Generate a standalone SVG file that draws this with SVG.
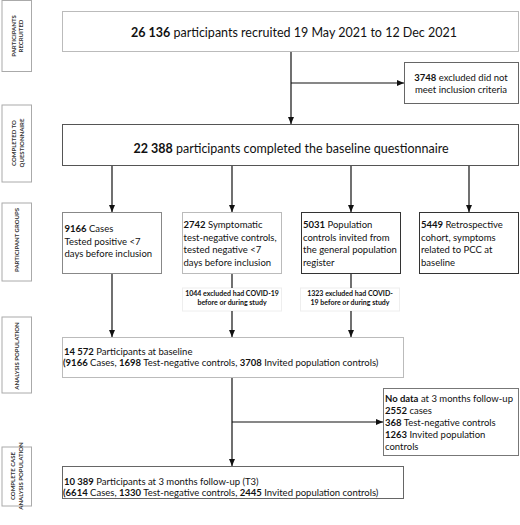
<svg xmlns="http://www.w3.org/2000/svg" width="520" height="525" viewBox="0 0 520 525">
<defs>
<marker id="ah" markerWidth="8" markerHeight="6" refX="7" refY="3" orient="auto" markerUnits="userSpaceOnUse">
<path d="M0,0 L7,3 L0,6 Z" fill="#111"/>
</marker>
<style>
text{font-family:Lato,"Liberation Sans",sans-serif;fill:#111}
.lbl rect{fill:#fff;stroke:#aaa;stroke-width:1}
.lbl text{font-size:6px;font-weight:bold;fill:#333;text-anchor:middle}
.box{fill:#fff;stroke-width:1}
.big{font-size:12.5px}
.mid{font-size:9.5px}
.sm{font-size:7px;font-weight:bold;text-anchor:middle}
.b{font-weight:bold}
.c{text-anchor:middle}
.con line{stroke:#111;stroke-width:1.2;fill:none}
</style>
</defs>
<rect width="520" height="525" fill="#fff"/>

<g id="lbl-recruited" class="lbl"><rect x="2" y="0.5" width="29.5" height="71"/>
<text transform="translate(13.5,36) rotate(-90)" dy="2">PARTICIPANTS</text>
<text transform="translate(21,36) rotate(-90)" dy="2">RECRUITED</text></g>
<g id="lbl-completed" class="lbl"><rect x="2" y="105" width="29.5" height="77"/>
<text transform="translate(14,143) rotate(-90)" dy="2">COMPLETED TO</text>
<text transform="translate(21.5,143) rotate(-90)" dy="2">QUESTIONNAIRE</text></g>
<g id="lbl-groups" class="lbl"><rect x="2" y="203" width="29.5" height="78"/>
<text transform="translate(17,240) rotate(-90)" dy="2">PARTICIPANT GROUPS</text></g>
<g id="lbl-analysis" class="lbl"><rect x="2" y="317" width="29.5" height="76"/>
<text transform="translate(17,356) rotate(-90)" dy="2">ANALYSIS POPULATION</text></g>
<g id="lbl-complete" class="lbl"><rect x="2" y="447" width="29.5" height="59"/>
<text transform="translate(13,476) rotate(-90)" dy="2">COMPLETE CASE</text>
<text transform="translate(20.5,476) rotate(-90)" dy="2">ANALYSIS POPULATION</text></g>

<g id="recruited"><rect class="box" x="62.5" y="11.5" width="456" height="40" stroke="#bbb"/>
<text class="big c" x="294" y="37"><tspan class="b">26 136</tspan> participants recruited 19 May 2021 to 12 Dec 2021</text></g>

<g id="excluded1"><rect class="box" x="404.5" y="62.5" width="114" height="41" stroke="#666"/>
<text class="mid c" x="461" y="80.5"><tspan class="b">3748</tspan> excluded did not</text>
<text class="mid c" x="461" y="92.5">meet inclusion criteria</text></g>

<g id="baseline-q"><rect class="box" x="62.5" y="124.5" width="456" height="41" stroke="#555"/>
<text class="big c" x="291" y="152.5"><tspan class="b">22 388</tspan> participants completed the baseline questionnaire</text></g>

<g id="cases"><rect class="box" x="62.5" y="212.5" width="99" height="61" stroke="#888"/>
<text class="mid" x="64.5" y="232"><tspan class="b">9166</tspan> Cases</text>
<text class="mid" x="64.5" y="244.5">Tested positive  &lt;7</text>
<text class="mid" x="64.5" y="257">days before inclusion</text></g>

<g id="testneg"><rect class="box" x="182.5" y="212.5" width="99" height="61" stroke="#bbb"/>
<text class="mid" x="183.5" y="228"><tspan class="b">2742</tspan> Symptomatic</text>
<text class="mid" x="183.5" y="240.5">test-negative  controls,</text>
<text class="mid" x="183.5" y="253">tested negative &lt;7</text>
<text class="mid" x="183.5" y="265.5">days before inclusion</text></g>

<g id="popctrl"><rect class="box" x="301.5" y="212.5" width="99" height="61" stroke="#333"/>
<text class="mid" x="303" y="228"><tspan class="b">5031</tspan> Population</text>
<text class="mid" x="303" y="240.5">controls invited  from</text>
<text class="mid" x="303" y="253">the general population</text>
<text class="mid" x="303" y="265.5">register</text></g>

<g id="retro"><rect class="box" x="419.5" y="212.5" width="99" height="61" stroke="#333"/>
<text class="mid" x="421" y="228"><tspan class="b">5449</tspan> Retrospective</text>
<text class="mid" x="421" y="240.5">cohort, symptoms</text>
<text class="mid" x="421" y="253">related to PCC at</text>
<text class="mid" x="421" y="265.5">baseline</text></g>

<g id="excl-testneg"><rect x="182.5" y="288" width="99" height="23" fill="#fff" stroke="#eee"/>
<text class="sm" x="232" y="295.5">1044 excluded had COVID-19</text>
<text class="sm" x="232" y="304.5">before or during study</text></g>

<g id="excl-pop"><rect x="300.5" y="288" width="99" height="23" fill="#fff" stroke="#eee"/>
<text class="sm" x="350" y="295.5">1323 excluded had COVID-</text>
<text class="sm" x="350" y="304.5">19 before or during study</text></g>

<g id="analysis"><rect class="box" x="62.5" y="337.5" width="341" height="40" stroke="#bbb"/>
<text class="mid" x="64" y="354.5"><tspan class="b">14 572</tspan> Participants at baseline</text>
<text class="mid" x="63" y="366"><tspan class="b">(9166</tspan> Cases, <tspan class="b">1698</tspan> Test-negative controls, <tspan class="b">3708</tspan> Invited population controls)</text></g>

<g id="nodata"><rect class="box" x="383.5" y="388.5" width="135" height="67" stroke="#777"/>
<text class="mid" x="385" y="401.5"><tspan class="b">No data</tspan> at 3 months follow-up</text>
<text class="mid" x="385" y="413.5"><tspan class="b">2552</tspan> cases</text>
<text class="mid" x="385" y="426"><tspan class="b">368</tspan> Test-negative controls</text>
<text class="mid" x="385" y="437.5"><tspan class="b">1263</tspan> Invited population</text>
<text class="mid" x="385" y="449.5">controls</text></g>

<g id="final"><rect class="box" x="62.5" y="466.5" width="341" height="32" stroke="#666"/>
<text class="mid" x="64" y="484.5"><tspan class="b">10 389</tspan> Participants at 3 months follow-up (T3)</text>
<text class="mid" x="63" y="495.5"><tspan class="b">(6614</tspan> Cases, <tspan class="b">1330</tspan> Test-negative controls, <tspan class="b">2445</tspan> Invited population controls)</text></g>

<g id="connectors" class="con">
<line x1="291" y1="52" x2="291" y2="124" marker-end="url(#ah)"/>
<line x1="291" y1="83" x2="404" y2="83" marker-end="url(#ah)"/>
<line x1="112" y1="166" x2="112" y2="212" marker-end="url(#ah)"/>
<line x1="232" y1="166" x2="232" y2="212" marker-end="url(#ah)"/>
<line x1="351" y1="166" x2="351" y2="212" marker-end="url(#ah)"/>
<line x1="469" y1="166" x2="469" y2="212" marker-end="url(#ah)"/>
<line x1="112" y1="274" x2="112" y2="337" marker-end="url(#ah)"/>
<line x1="232" y1="274" x2="232" y2="288"/>
<line x1="232" y1="311" x2="232" y2="337" marker-end="url(#ah)"/>
<line x1="351" y1="274" x2="351" y2="288"/>
<line x1="351" y1="311" x2="351" y2="337" marker-end="url(#ah)"/>
<line x1="232" y1="378" x2="232" y2="466" marker-end="url(#ah)"/>
<line x1="232" y1="422" x2="383" y2="422" marker-end="url(#ah)"/>
</g>
</svg>
